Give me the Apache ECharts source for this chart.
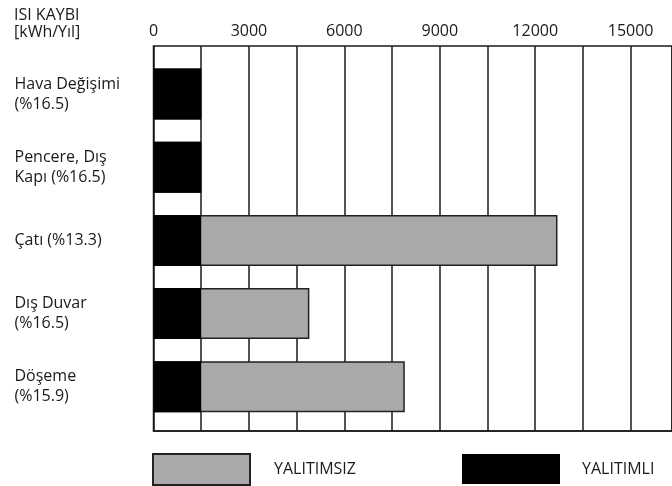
<!DOCTYPE html>
<html>
<head>
<meta charset="utf-8">
<script src="https://cdn.jsdelivr.net/npm/echarts@6/dist/echarts.min.js"></script>
<style>
  html, body { margin: 0; padding: 0; background: #fff; }
  #chart { width: 672px; height: 486px; }
</style>
</head>
<body>
<div id="chart"></div>
<script>
// Yıllık ısı kaybı, yapı bileşenlerine göre (kWh/Yıl)
const categories = [
  'Hava Değişimi\n(%16.5)',
  'Pencere, Dış\nKapı (%16.5)',
  'Çatı (%13.3)',
  'Dış Duvar\n(%16.5)',
  'Döşeme\n(%15.9)'
];
const yalitimsiz = [1500, 1500, 12700, 4900, 7900];
const yalitimli = [1500, 1500, 1500, 1500, 1500];
const tickStep = 1500;
const labelStep = 3000;
const axisMax = 16300;

const FONT = '"Open Sans", "Noto Sans", sans-serif';
const INK = '#1a1a1a';

const chart = echarts.init(document.getElementById('chart'), null, { renderer: 'canvas' });

chart.setOption({
  animation: false,
  backgroundColor: '#ffffff',
  textStyle: { fontFamily: FONT, color: INK },
  title: {
    text: 'ISI KAYBI\n[kWh/Yıl]',
    left: 14,
    top: 7,
    padding: 0,
    textStyle: { fontFamily: FONT, fontSize: 16, fontWeight: 'normal', color: INK, lineHeight: 17 }
  },
  legend: [
    {
      data: ['YALITIMSIZ'],
      left: 152, top: 453,
      padding: 0,
      itemWidth: 97, itemHeight: 31,
      selectedMode: false,
      icon: 'rect',
      textStyle: { fontFamily: FONT, fontSize: 16, color: INK, padding: [0, 0, 0, 19] }
    },
    {
      data: ['YALITIMLI'],
      left: 462, top: 454,
      padding: 0,
      itemWidth: 98, itemHeight: 30,
      selectedMode: false,
      icon: 'rect',
      textStyle: { fontFamily: FONT, fontSize: 16, color: INK, padding: [0, 0, 0, 17] }
    }
  ],
  grid: [
    // frame with vertical grid lines
    { left: 153.5, right: -2, top: 46, bottom: 55, show: true, borderColor: INK, borderWidth: 1.5, backgroundColor: 'transparent' },
    // bars
    { left: 153.5, right: -2, top: 57.4, bottom: 62.6 }
  ],
  xAxis: [
    {
      gridIndex: 0,
      type: 'value',
      position: 'top',
      min: 0, max: axisMax, interval: tickStep,
      axisLine: { show: true, lineStyle: { color: INK, width: 1.5 } },
      axisTick: { show: false },
      axisLabel: {
        margin: 7,
        fontFamily: FONT, fontSize: 16, color: INK,
        showMaxLabel: false,
        formatter: v => (v % labelStep === 0 ? String(v) : '')
      },
      splitLine: { show: true, lineStyle: { color: INK, width: 1.5 } }
    },
    {
      gridIndex: 1,
      type: 'value',
      min: 0, max: axisMax,
      show: false
    }
  ],
  yAxis: [
    { gridIndex: 0, type: 'value', min: 0, max: 1, show: false },
    {
      gridIndex: 1,
      type: 'category',
      inverse: true,
      data: categories,
      axisLine: { show: false },
      axisTick: { show: false },
      axisLabel: {
        align: 'left',
        margin: 139,
        fontFamily: FONT, fontSize: 16, color: INK, lineHeight: 20
      }
    }
  ],
  series: [
    {
      name: 'YALITIMSIZ',
      type: 'bar',
      xAxisIndex: 1, yAxisIndex: 1,
      data: yalitimsiz,
      barWidth: 51,
      barGap: '-100%',
      itemStyle: { color: '#a9a9ac', borderColor: '#222', borderWidth: 1.5 },
      z: 3
    },
    {
      name: 'YALITIMLI',
      type: 'bar',
      xAxisIndex: 1, yAxisIndex: 1,
      data: yalitimli,
      barWidth: 51,
      barGap: '-100%',
      itemStyle: { color: '#000000' },
      z: 4
    }
  ]
});
</script>
</body>
</html>
